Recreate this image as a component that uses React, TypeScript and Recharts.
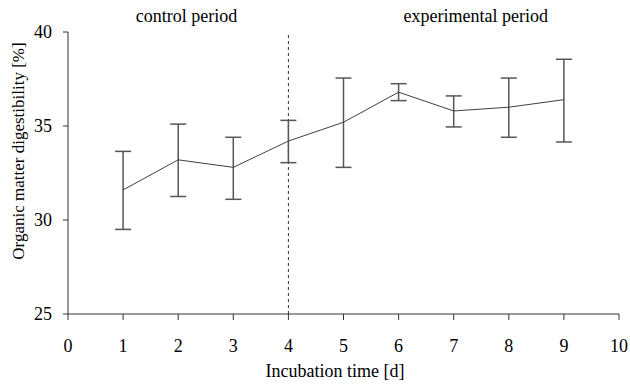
import { CartesianGrid, ErrorBar, Label, Line, LineChart, ReferenceLine, XAxis, YAxis } from 'recharts'

const days = [1, 2, 3, 4, 5, 6, 7, 8, 9]
const means = [31.6, 33.2, 32.8, 34.2, 35.2, 36.8, 35.8, 36.0, 36.4]
const upper = [33.65, 35.1, 34.4, 35.3, 37.55, 37.25, 36.6, 37.55, 38.55]
const lower = [29.5, 31.25, 31.1, 33.05, 32.8, 36.35, 34.95, 34.4, 34.15]
const xTicks = [0, 1, 2, 3, 4, 5, 6, 7, 8, 9, 10]
const yTicks = [25, 30, 35, 40]

const data = days.map((day, i) => ({
  day,
  omd: means[i],
  err: [means[i] - lower[i], upper[i] - means[i]],
}))

const serif = 'Liberation Serif'
const tickStyle = { fill: '#000', fontSize: 18, fontFamily: serif }

export default function App() {
  return (
    <div style={{ position: 'absolute', left: 0, top: 0, background: '#fff' }}>
      <LineChart
        width={630}
        height={385}
        data={data}
        margin={{ top: 32, right: 11, bottom: 0, left: 0 }}
        style={{ fontFamily: serif }}
      >
        <CartesianGrid stroke="none" />
        <XAxis
          dataKey="day"
          type="number"
          domain={[0, 10]}
          ticks={xTicks}
          height={71}
          stroke="#333"
          tickSize={6}
          tickMargin={19}
          tick={tickStyle}
        >
          <Label
            content={({ viewBox }: any) => (
              <text x={335} y={viewBox.y + 63} textAnchor="middle" fontSize={18} fill="#000" fontFamily={serif}>
                Incubation time [d]
              </text>
            )}
          />
        </XAxis>
        <YAxis
          type="number"
          domain={[25, 40]}
          ticks={yTicks}
          width={68}
          stroke="#333"
          tickSize={5}
          tickMargin={11}
          tick={tickStyle}
        >
          <Label
            content={({ viewBox }: any) => (
              <text
                x={viewBox.x + 18}
                y={151}
                transform={`rotate(-90 ${viewBox.x + 18} 151)`}
                textAnchor="middle"
                dominantBaseline="central"
                fontSize={17}
                fill="#000"
                fontFamily={serif}
              >
                Organic matter digestibility [%]
              </text>
            )}
          />
        </YAxis>
        <ReferenceLine x={4} stroke="#333" strokeDasharray="3 3" />
        <ReferenceLine x={2.15} stroke="none">
          <Label value="control period" position="top" offset={10} fill="#000" fontSize={18} fontFamily={serif} />
        </ReferenceLine>
        <ReferenceLine x={7.4} stroke="none">
          <Label value="experimental period" position="top" offset={10} fill="#000" fontSize={18} fontFamily={serif} />
        </ReferenceLine>
        <Line
          type="linear"
          dataKey="omd"
          stroke="#404040"
          strokeWidth={1}
          dot={false}
          isAnimationActive={false}
        >
          <ErrorBar dataKey="err" width={8} stroke="#555" strokeWidth={1.5} />
        </Line>
      </LineChart>
    </div>
  )
}
